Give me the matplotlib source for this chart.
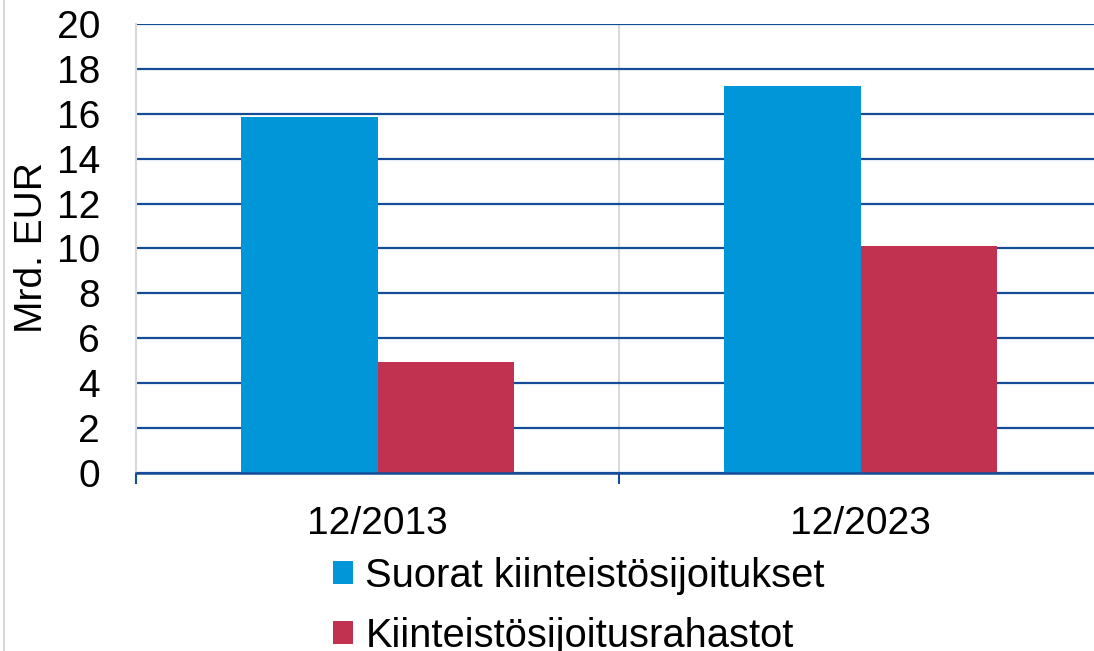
import matplotlib
matplotlib.use("Agg")
import matplotlib.pyplot as plt
from matplotlib.lines import Line2D
import numpy as np

categories = ["12/2013", "12/2023"]
series = ["Suorat kiinteistösijoitukset", "Kiinteistösijoitusrahastot"]
suorat = [15.85, 17.25]
rahastot = [4.95, 10.1]
yticks = [0, 2, 4, 6, 8, 10, 12, 14, 16, 18, 20]

plt.rcParams['font.family'] = ['Liberation Sans', 'DejaVu Sans']

W, H = 1094, 651
fig = plt.figure(figsize=(W / 100, H / 100), dpi=100)
ax = fig.add_axes([136 / W, 178 / H, 966 / W, 449 / H])

navy = '#144C98'
gray = '#D9D9D9'
blue = '#0096D8'
red = '#C0324F'

x = np.arange(len(categories))
w = 0.283
b1 = ax.bar(x - w / 2, suorat, width=w, color=blue, label=series[0], zorder=3)
b2 = ax.bar(x + w / 2, rahastot, width=w, color=red, label=series[1], zorder=3)

ax.set_xlim(-0.5, len(categories) - 0.5)
ax.set_ylim(0, 20)
ax.set_yticks(yticks)
ax.set_yticklabels([str(v) for v in yticks], fontsize=28)
ax.tick_params(axis='y', length=0, pad=26)

ax.set_xticks(np.arange(len(categories) + 1) - 0.5)
ax.set_xticklabels([''] * (len(categories) + 1))
ax.tick_params(axis='x', which='major', length=8, width=1.5, color=navy, direction='out')
ax.set_xticks(x, minor=True)
ax.set_xticklabels(categories, minor=True, fontsize=28)
ax.tick_params(axis='x', which='minor', length=0, pad=24)

ax.yaxis.grid(True, color=navy, lw=1.6, zorder=1)
ax.set_axisbelow(True)
for i in range(1, len(categories)):
    ax.axvline(i - 0.5, color=gray, lw=1.5, zorder=0.5)

for s in ['top', 'right']:
    ax.spines[s].set_visible(False)
ax.spines['left'].set_color(gray)
ax.spines['left'].set_linewidth(1.5)
ax.spines['bottom'].set_color(navy)
ax.spines['bottom'].set_linewidth(1.8)
ax.spines['bottom'].set_zorder(4)

fig.text(32 / W, 1 - 248 / H, 'Mrd. EUR', rotation=90, ha='center', va='center', fontsize=28)

fig.legend(handles=[b1, b2], labels=series, loc='center left',
           bbox_to_anchor=(333 / W, 1 - 606 / H), bbox_transform=fig.transFigure,
           frameon=False, borderpad=0, borderaxespad=0, handlelength=0.51,
           handleheight=0.51, handletextpad=0.3, labelspacing=0.55, fontsize=28.7)

fig.add_artist(Line2D([3.5 / W, 3.5 / W], [0, 1], color=gray, lw=1.5, transform=fig.transFigure))

fig.savefig('out.png', dpi=100)
